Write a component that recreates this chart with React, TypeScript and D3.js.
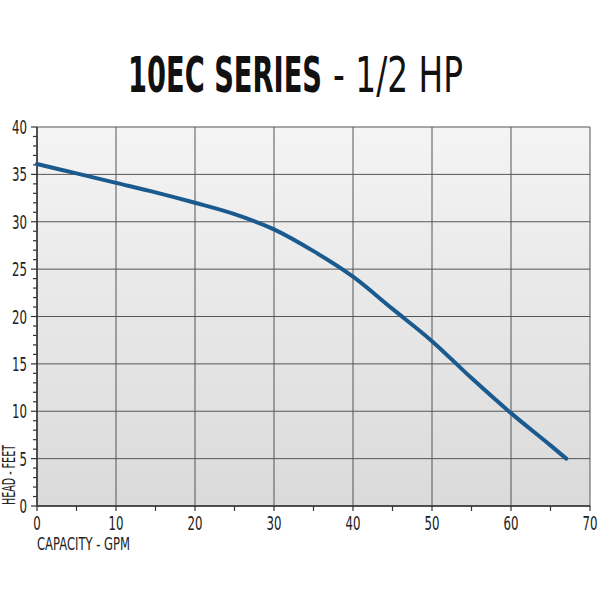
import { useEffect, useRef } from "react";
import * as d3 from "d3";

// pump curve: capacity (GPM) -> head (feet)
const capacity = [0, 5, 10, 15, 20, 25, 30, 35, 40, 45, 50, 55, 60, 65, 67];
const head = [36.1, 35.1, 34.1, 33.1, 32.0, 30.8, 29.2, 26.9, 24.2, 20.8, 17.4, 13.5, 9.8, 6.4, 5.0];
const xTicks = [0, 10, 20, 30, 40, 50, 60, 70];
const yTicks = [0, 5, 10, 15, 20, 25, 30, 35, 40];

const FONT = "'DejaVu Sans', sans-serif";
const SQUEEZE = 0.62; // no condensed face installed, so squeeze horizontally

export default function App() {
  const svgRef = useRef<SVGSVGElement>(null);

  useEffect(() => {
    const svg = d3.select(svgRef.current);
    svg.selectAll("*").remove();

    const margin = { top: 127, right: 10, bottom: 94, left: 37 };
    const W = 600, H = 600;
    const w = W - margin.left - margin.right;
    const h = H - margin.top - margin.bottom;

    const x = d3.scaleLinear().domain([0, 70]).range([0, w]);
    const y = d3.scaleLinear().domain([0, 40]).range([h, 0]);

    // title: squeezed with a transform, then fitted to the widths in the picture
    const boldScale = 0.55, thinScale = 0.66;
    svg.append("text")
      .attr("transform", `translate(128,92) scale(${boldScale},1)`)
      .attr("font-family", FONT).attr("font-size", 50).attr("font-weight", "bold")
      .attr("fill", "#111")
      .attr("textLength", 194 / boldScale).attr("lengthAdjust", "spacingAndGlyphs")
      .text("10EC SERIES");
    svg.append("text")
      .attr("transform", `translate(333,92) scale(${thinScale},1)`)
      .attr("font-family", FONT).attr("font-size", 50)
      .attr("fill", "#111")
      .attr("textLength", 130 / thinScale).attr("lengthAdjust", "spacingAndGlyphs")
      .text("- 1/2 HP");

    // background gradient
    const grad = svg.append("defs").append("linearGradient")
      .attr("id", "bg").attr("x1", 0).attr("y1", 0).attr("x2", 0).attr("y2", 1);
    grad.append("stop").attr("offset", "0%").attr("stop-color", "#f4f4f4");
    grad.append("stop").attr("offset", "100%").attr("stop-color", "#dadada");

    const g = svg.append("g").attr("transform", `translate(${margin.left},${margin.top})`);
    g.append("rect").attr("width", w).attr("height", h).attr("fill", "url(#bg)");

    // grid
    g.append("g").selectAll("line").data(xTicks).join("line")
      .attr("x1", d => x(d)).attr("x2", d => x(d))
      .attr("y1", 0).attr("y2", h)
      .attr("stroke", "#555").attr("stroke-width", 1);
    g.append("g").selectAll("line").data(yTicks).join("line")
      .attr("x1", 0).attr("x2", w)
      .attr("y1", d => y(d)).attr("y2", d => y(d))
      .attr("stroke", "#555").attr("stroke-width", 1);

    // y axis minor ticks every 1 ft
    g.append("g").selectAll("line").data(d3.range(0, 41)).join("line")
      .attr("x1", d => (d % 5 === 0 ? -6 : -4)).attr("x2", 0)
      .attr("y1", d => y(d)).attr("y2", d => y(d))
      .attr("stroke", "#333").attr("stroke-width", 1.2);
    // x axis ticks every 5 gpm
    g.append("g").selectAll("line").data(d3.range(0, 71, 5)).join("line")
      .attr("x1", d => x(d)).attr("x2", d => x(d))
      .attr("y1", h).attr("y2", h + 5)
      .attr("stroke", "#333").attr("stroke-width", 1.2);

    // axis lines
    g.append("line").attr("x1", 0).attr("x2", 0).attr("y1", 0).attr("y2", h)
      .attr("stroke", "#333").attr("stroke-width", 1.5);
    g.append("line").attr("x1", 0).attr("x2", w).attr("y1", h).attr("y2", h)
      .attr("stroke", "#333").attr("stroke-width", 1.5);

    // tick labels
    g.append("g").selectAll("text").data(yTicks).join("text")
      .attr("transform", d => `translate(-10,${y(d) + 7}) scale(${SQUEEZE},1)`)
      .attr("text-anchor", "end")
      .attr("font-family", FONT).attr("font-size", 19).attr("fill", "#222")
      .text(d => d);
    g.append("g").selectAll("text").data(xTicks).join("text")
      .attr("transform", d => `translate(${x(d)},${h + 24}) scale(${SQUEEZE},1)`)
      .attr("text-anchor", "middle")
      .attr("font-family", FONT).attr("font-size", 19).attr("fill", "#222")
      .text(d => d);

    // axis titles
    g.append("text")
      .attr("x", 0).attr("y", h + 44)
      .attr("font-family", FONT).attr("font-size", 17).attr("fill", "#222")
      .attr("textLength", 93).attr("lengthAdjust", "spacingAndGlyphs")
      .text("CAPACITY - GPM");
    g.append("text")
      .attr("transform", `translate(-22,${h - 1}) rotate(-90)`)
      .attr("font-family", FONT).attr("font-size", 17).attr("fill", "#222")
      .attr("textLength", 60).attr("lengthAdjust", "spacingAndGlyphs")
      .text("HEAD - FEET");

    // pump curve
    const pts = capacity.map((c, i) => [c, head[i]] as [number, number]);
    const line = d3.line<[number, number]>()
      .x(d => x(d[0])).y(d => y(d[1]))
      .curve(d3.curveMonotoneX);
    g.append("path")
      .datum(pts)
      .attr("fill", "none")
      .attr("stroke", "#1b5a8e")
      .attr("stroke-width", 4)
      .attr("stroke-linecap", "round")
      .attr("d", line);
  }, []);

  return (
    <div style={{ position: "fixed", left: 0, top: 0, width: 600, height: 600, background: "#fff" }}>
      <svg ref={svgRef} width={600} height={600} style={{ display: "block" }} />
    </div>
  );
}
